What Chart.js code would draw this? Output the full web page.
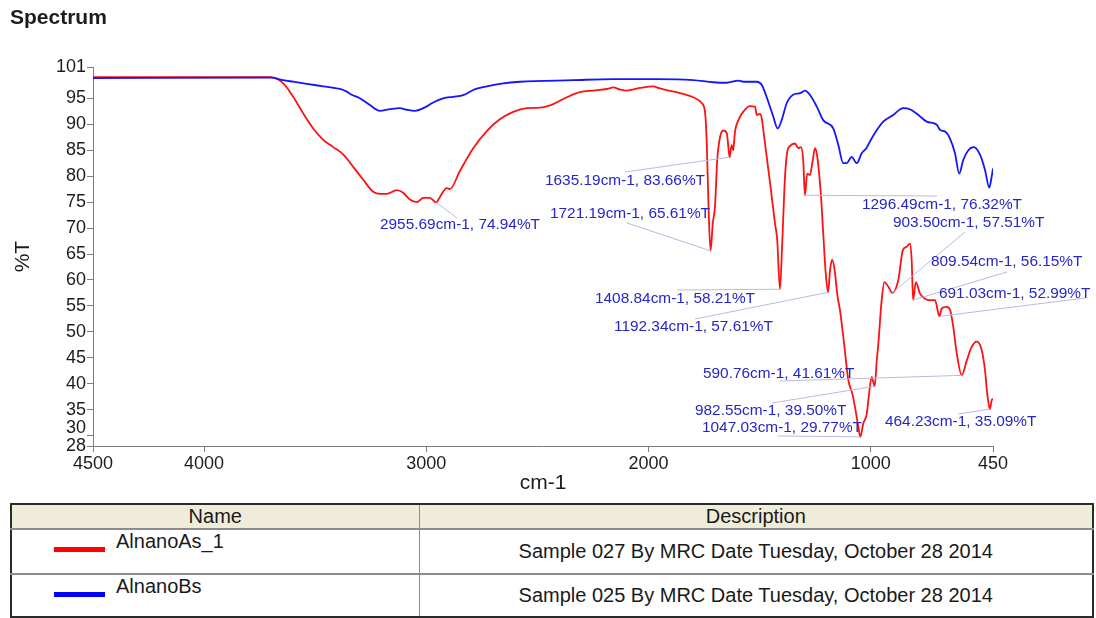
<!DOCTYPE html>
<html>
<head>
<meta charset="utf-8">
<title>Spectrum</title>
<script src="https://cdn.jsdelivr.net/npm/chart.js@4.4.0/dist/chart.umd.min.js"></script>
<style>
  body { margin: 0; background: #fff; font-family: "Liberation Sans", Arial, sans-serif; }
  #wrap { position: relative; width: 1096px; height: 618px; overflow: hidden; }
  #spectrum { position: absolute; left: 0; top: 0; }
  #legend {
    position: absolute; left: 10px; top: 503px; width: 1084px;
    border-collapse: collapse; table-layout: fixed;
    border: 2px solid #2b2b2b; font-size: 20px; color: #1a1a1a;
  }
  #legend th, #legend td { border: 1px solid #8c8c8c; padding: 0; font-weight: normal; }
  #legend th { background: #efedd9; height: 21px; border-bottom: 2px solid #8c8c8c; }
  #legend td.desc { text-align: center; }
  #legend tr.r1 td { height: 43px; border-bottom: 2px solid #8c8c8c; }
  #legend tr.r2 td { height: 41px; }
  .name { position: relative; }
  .swatch { position: absolute; left: 42px; top: 17px; width: 51px; height: 5px; }
  .lbl { position: absolute; left: 104px; top: 0px; line-height: 22px; }
  .r1 .desc { padding-top: 4px; }
</style>
</head>
<body>
<div id="wrap">
  <canvas id="spectrum" width="1096" height="500"></canvas>
  <table id="legend">
    <colgroup><col style="width:408px"><col></colgroup>
    <tr><th>Name</th><th>Description</th></tr>
    <tr class="r1">
      <td class="name"><span class="swatch" style="background:#ff0000"></span><span class="lbl">AlnanoAs_1</span></td>
      <td class="desc">Sample 027 By MRC Date Tuesday, October 28 2014</td>
    </tr>
    <tr class="r2">
      <td class="name"><span class="swatch" style="background:#0000ff"></span><span class="lbl">AlnanoBs</span></td>
      <td class="desc">Sample 025 By MRC Date Tuesday, October 28 2014</td>
    </tr>
  </table>
</div>
<script>
// AlnanoAs_1 trace (cm-1 / %T), picked peaks are merged in below
const redWn = [4500, 3700, 3644, 3599, 3554, 3509, 3464, 3419, 3374, 3329,
  3284, 3239, 3208, 3178, 3133, 3104, 3074, 3043, 3014, 2984,
  2939, 2908, 2894, 2849, 2789, 2728, 2668, 2609, 2548, 2489,
  2429, 2368, 2309, 2249, 2188, 2159, 2128, 2098, 2039, 1979,
  1949, 1920, 1859, 1799, 1761, 1746, 1738, 1731, 1711, 1701,
  1691, 1678, 1664, 1648, 1641, 1626, 1619, 1611, 1596, 1574,
  1544, 1521, 1513, 1498, 1491, 1476, 1453, 1431, 1421, 1398,
  1386, 1376, 1364, 1341, 1326, 1315, 1304, 1286, 1274, 1261,
  1251, 1241, 1225, 1214, 1204, 1183, 1174, 1163, 1150, 1138,
  1120, 1101, 1083, 1071, 1056, 1034, 1018, 1011, 996, 973,
  966, 951, 939, 921, 876, 856, 838, 824, 816, 797,
  779, 756, 734, 711, 681, 658, 643, 629, 613, 568,
  546, 523, 501, 486, 476, 456, 450];
const redT = [99.1, 99.1, 97.9, 95.3, 92.1, 89.2, 87.0, 85.6, 84.2, 81.8,
  79.3, 77.0, 76.6, 76.6, 77.3, 76.8, 75.5, 75.0, 75.8, 75.8,
  76.0, 77.7, 77.5, 81.0, 85.4, 88.7, 91.0, 92.4, 93.1, 93.2,
  93.9, 95.2, 96.2, 96.5, 96.8, 97.1, 96.7, 96.5, 97.0, 97.3,
  96.9, 96.6, 96.0, 95.2, 94.1, 92.4, 86.3, 75.4, 70.9, 74.1,
  83.1, 87.6, 88.8, 88.3, 85.7, 86.0, 85.0, 88.6, 90.8, 92.4,
  93.5, 93.4, 91.8, 92.0, 91.2, 86.3, 78.6, 70.9, 67.7, 67.7,
  79.9, 84.7, 85.8, 86.3, 85.4, 85.6, 83.1, 80.5, 80.2, 83.1,
  85.4, 83.8, 76.7, 69.0, 62.0, 62.0, 63.9, 62.0, 57.0, 54.0,
  47.7, 40.7, 38.1, 35.5, 31.7, 32.3, 34.2, 36.8, 41.3, 44.5,
  47.7, 56.1, 59.6, 58.7, 60.0, 65.7, 66.4, 67.0, 63.8, 59.6,
  57.4, 56.4, 56.1, 56.1, 54.5, 54.8, 54.2, 51.0, 45.8, 44.5,
  47.1, 48.1, 46.5, 42.6, 38.1, 36.8, 37.1];

// AlnanoBs trace
const blueWn = [4500, 3700, 3644, 3599, 3538, 3464, 3389, 3358, 3336, 3299,
  3254, 3209, 3164, 3119, 3088, 3051, 3014, 2969, 2924, 2879,
  2834, 2789, 2728, 2654, 2579, 2339, 2159, 1964, 1799, 1709,
  1649, 1596, 1574, 1513, 1491, 1469, 1439, 1419, 1401, 1378,
  1349, 1318, 1296, 1274, 1243, 1214, 1169, 1146, 1124, 1109,
  1086, 1063, 1041, 1020, 989, 944, 899, 854, 824, 786,
  748, 703, 688, 666, 644, 621, 602, 584, 561, 536,
  508, 486, 467, 456, 450];
const blueT = [98.9, 99.0, 98.5, 98.2, 97.8, 97.3, 96.8, 96.3, 95.7, 95.0,
  93.7, 92.6, 92.9, 93.1, 92.8, 92.6, 93.1, 94.2, 95.0, 95.3,
  95.6, 96.6, 97.3, 97.9, 98.2, 98.5, 98.7, 98.7, 98.5, 98.1,
  98.0, 98.4, 98.2, 98.2, 97.6, 95.3, 91.5, 89.2, 90.8, 94.1,
  95.7, 96.0, 96.5, 95.7, 93.4, 90.8, 89.2, 86.0, 82.5, 82.5,
  83.7, 82.5, 84.4, 85.4, 87.8, 90.5, 91.8, 93.1, 92.9, 91.8,
  90.5, 89.9, 88.9, 88.6, 87.3, 84.4, 80.5, 83.1, 85.0, 85.6,
  84.1, 81.2, 77.8, 79.9, 81.5];

// picked peaks on AlnanoAs_1
const peakWn = [2955.69, 1635.19, 1721.19, 1296.49, 903.50, 809.54, 691.03,
  1408.84, 1192.34, 590.76, 982.55, 1047.03, 464.23];
const peakT = [74.94, 83.66, 65.61, 76.32, 57.51, 56.15, 52.99,
  58.21, 57.61, 41.61, 39.50, 29.77, 35.09];
// where each peak label sits: [text left, text middle, leader end x, leader end y]
const peakLabelSpots = [
  [380, 225, 457, 218], [545, 181, 625, 172], [550, 214, 627, 223],
  [862, 205, 937, 196], [893, 223, 965, 232], [931, 262, 1007, 272],
  [939, 294, 1085, 298], [595, 299, 677, 290], [614, 327, 695, 319],
  [703, 374, 780, 381], [695, 411, 772, 403], [702, 428, 778, 436],
  [885, 422, 958, 414]];

const xTicks = [4500, 4000, 3000, 2000, 1000, 450];
const yTicks = [28, 30, 35, 40, 45, 50, 55, 60, 65, 70, 75, 80, 85, 90, 95, 101];

const FONT = '"Liberation Sans", Arial, sans-serif';
Chart.defaults.font.family = FONT;

const toPoints = (xs, ys) => xs.map((x, i) => ({ x: x, y: ys[i] }));
const redPoints = toPoints(redWn, redT).concat(toPoints(peakWn, peakT))
  .sort((a, b) => b.x - a.x);
const bluePoints = toPoints(blueWn, blueT);

const peakLabels = {
  id: 'peakLabels',
  afterDatasetsDraw(chart) {
    const { ctx, scales: { x, y } } = chart;
    ctx.save();
    peakWn.forEach((wn, i) => {
      const px = x.getPixelForValue(wn);
      const py = y.getPixelForValue(peakT[i]);
      const [tx, ty, lx, ly] = peakLabelSpots[i];
      ctx.strokeStyle = '#b7bbe4';
      ctx.lineWidth = 1;
      ctx.beginPath();
      ctx.moveTo(px, py);
      ctx.lineTo(lx, ly);
      ctx.stroke();
      ctx.fillStyle = '#2626c8';
      ctx.font = '15.4px ' + FONT;
      ctx.textBaseline = 'middle';
      ctx.textAlign = 'left';
      ctx.fillText(wn.toFixed(2) + 'cm-1, ' + peakT[i].toFixed(2) + '%T', tx, ty);
    });
    ctx.restore();
  }
};

const axisGray = '#7d7d7d';
const textDark = '#1c1c1c';

new Chart(document.getElementById('spectrum'), {
  type: 'line',
  data: {
    datasets: [
      { label: 'AlnanoBs', data: bluePoints, borderColor: '#1414ff', borderWidth: 1.8,
        pointRadius: 0, cubicInterpolationMode: 'monotone', fill: false },
      { label: 'AlnanoAs_1', data: redPoints, borderColor: '#ff1111', borderWidth: 1.8,
        pointRadius: 0, cubicInterpolationMode: 'monotone', fill: false }
    ]
  },
  options: {
    responsive: false,
    animation: false,
    events: [],
    layout: { padding: { left: 10, top: 4, right: 103, bottom: 0 } },
    plugins: {
      legend: { display: false },
      tooltip: { enabled: false },
      title: {
        display: true, text: 'Spectrum', align: 'start', color: textDark,
        font: { size: 21, weight: 'bold' }, padding: { top: 2, bottom: 36 }
      }
    },
    scales: {
      x: {
        type: 'linear', reverse: true, min: 450, max: 4500,
        afterBuildTicks: s => { s.ticks = xTicks.map(v => ({ value: v })); },
        afterFit: s => { s.height = 54; },
        grid: { drawOnChartArea: false, drawTicks: true, tickLength: 6, color: axisGray },
        border: { color: axisGray, width: 1 },
        ticks: { color: textDark, font: { size: 18 }, padding: 1, maxRotation: 0, autoSkip: false,
          callback: v => String(v) },
        title: { display: true, text: 'cm-1', color: textDark, font: { size: 21 },
          padding: { top: 0, bottom: 4 } }
      },
      y: {
        type: 'linear', min: 28, max: 101,
        afterBuildTicks: s => { s.ticks = yTicks.map(v => ({ value: v })); },
        afterFit: s => { s.width = 83; },
        grid: { drawOnChartArea: false, drawTicks: true, tickLength: 6, color: axisGray },
        border: { color: axisGray, width: 1 },
        ticks: {
          color: textDark, padding: 1, autoSkip: false,
          // the 30 label is nudged up so it clears 28
          callback: v => v === 30 ? ['30', ''] : String(v),
          font: c => (c.tick && c.tick.value === 30) ? { size: 18, lineHeight: 0.8 } : { size: 18 }
        },
        title: { display: true, text: '%T', color: textDark, font: { size: 21 },
          padding: { top: 1, bottom: 0 } }
      }
    }
  },
  plugins: [peakLabels]
});
</script>
</body>
</html>
